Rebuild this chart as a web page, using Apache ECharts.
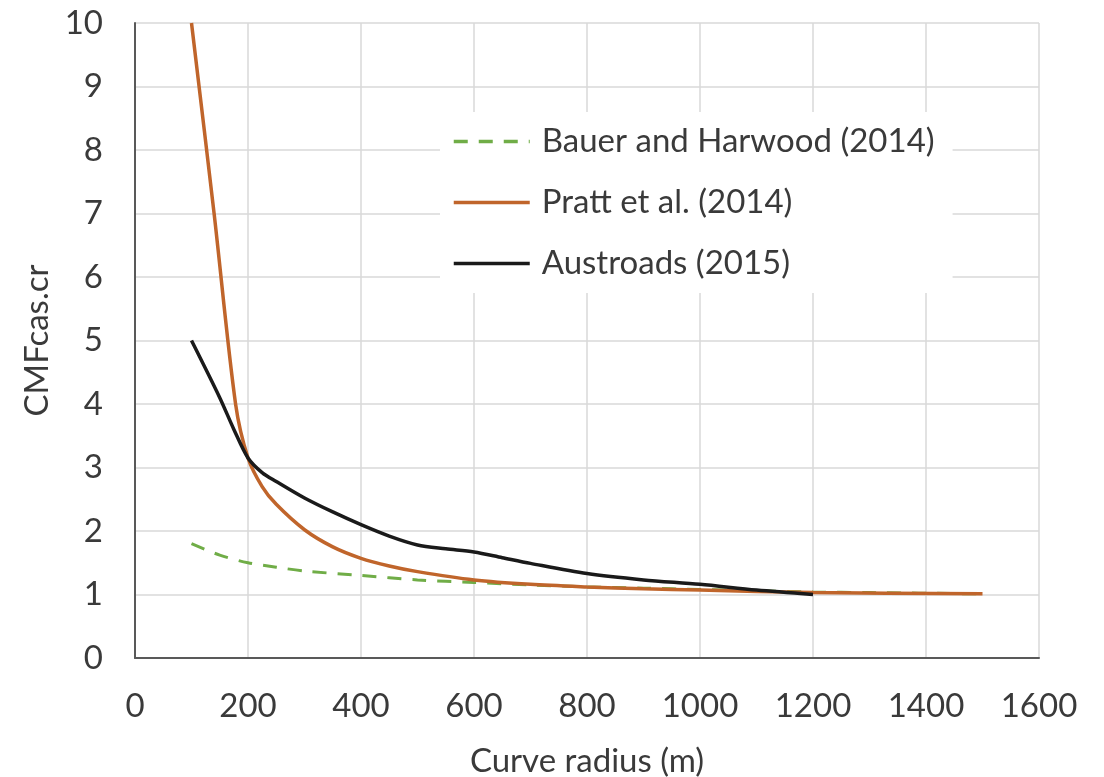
<!DOCTYPE html>
<html>
<head>
<meta charset="utf-8">
<script src="https://cdn.jsdelivr.net/npm/echarts@6/dist/echarts.min.js"></script>
<style>html,body{margin:0;padding:0;background:#fff;}#c{width:1104px;height:777px;}</style>
</head>
<body>
<div id="c"></div>
<script>
var seriesNames = ['Bauer and Harwood (2014)', 'Pratt et al. (2014)', 'Austroads (2015)'];
var bauerData = [[100,1.8],[150,1.62],[200,1.5],[250,1.43],[300,1.37],[400,1.3],[500,1.23],[600,1.19],[700,1.15],[800,1.12],[900,1.1],[1000,1.08],[1100,1.06],[1200,1.04],[1300,1.03],[1500,1.01]];
var prattData = [[100,10],[140,7],[178,4],[200,3.15],[225,2.7],[250,2.42],[300,2.02],[350,1.75],[400,1.57],[450,1.45],[500,1.36],[600,1.23],[700,1.16],[800,1.12],[900,1.09],[1000,1.07],[1200,1.03],[1500,1.01]];
var austroadsData = [[100,5.0],[150,4.1],[175,3.6],[200,3.15],[225,2.92],[250,2.78],[300,2.52],[350,2.3],[400,2.1],[450,1.92],[500,1.78],[550,1.72],[600,1.67],[650,1.58],[700,1.49],[800,1.33],[900,1.23],[1000,1.16],[1100,1.07],[1200,1.0]];
var xAxisTitle = 'Curve radius (m)';
var yAxisTitle = 'CMFcas.cr';

var FONT = 'Lato';
var FS = 33;
var TXT = '#3a3a3a';
var chart = echarts.init(document.getElementById('c'), null, {renderer: 'canvas'});
chart.setOption({
  animation: false,
  backgroundColor: '#ffffff',
  grid: {left: 135, right: 65, top: 23, bottom: 119, containLabel: false, outerBoundsMode: 'none'},
  legend: {
    orient: 'vertical',
    left: 440,
    top: 112,
    backgroundColor: '#ffffff',
    padding: [13, 18, 13, 12],
    itemWidth: 76,
    itemHeight: 22,
    itemGap: 28,
    itemStyle: {opacity: 0},
    lineStyle: {width: 3.5},
    textStyle: {fontFamily: FONT, fontSize: FS, color: TXT, padding: [0, 0, 0, 7]},
    data: seriesNames
  },
  xAxis: {
    type: 'value', min: 0, max: 1600, interval: 200,
    name: xAxisTitle, nameLocation: 'middle', nameGap: 87,
    nameTextStyle: {fontFamily: FONT, fontSize: FS, color: TXT},
    axisLine: {show: true, lineStyle: {color: '#595959', width: 2}},
    axisTick: {show: false},
    axisLabel: {fontFamily: FONT, fontSize: FS, color: TXT, margin: 32, formatter: function (v) { return String(v); }},
    splitLine: {show: true, lineStyle: {color: '#d9d9d9', width: 1.5}}
  },
  yAxis: {
    type: 'value', min: 0, max: 10, interval: 1,
    name: yAxisTitle, nameLocation: 'middle', nameGap: 78, nameRotate: 90,
    nameTextStyle: {fontFamily: FONT, fontSize: FS, color: TXT},
    axisLine: {show: true, lineStyle: {color: '#595959', width: 2}},
    axisTick: {show: false},
    axisLabel: {fontFamily: FONT, fontSize: FS, color: TXT, margin: 32, formatter: function (v) { return String(v); }},
    splitLine: {show: true, lineStyle: {color: '#d9d9d9', width: 1.5}}
  },
  series: [
    {name: seriesNames[0], type: 'line', data: bauerData, symbol: 'none', smooth: 0.3,
     lineStyle: {color: '#70ad47', width: 3, type: [14, 11]}, itemStyle: {color: '#70ad47'}, z: 2},
    {name: seriesNames[1], type: 'line', data: prattData, symbol: 'none', smooth: 0.3,
     lineStyle: {color: '#c0652b', width: 3.5}, itemStyle: {color: '#c0652b'}, z: 3},
    {name: seriesNames[2], type: 'line', data: austroadsData, symbol: 'none', smooth: 0.3,
     lineStyle: {color: '#1a1a1a', width: 3.5}, itemStyle: {color: '#1a1a1a'}, z: 4}
  ]
});
</script>
</body>
</html>
